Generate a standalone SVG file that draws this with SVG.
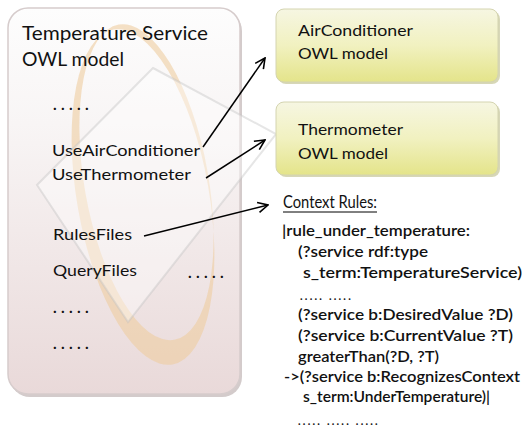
<svg xmlns="http://www.w3.org/2000/svg" width="524" height="429" viewBox="0 0 524 429">
<defs>
<linearGradient id="gLeft" x1="0" y1="0" x2="0" y2="1">
<stop offset="0" stop-color="#fdfdfd"/>
<stop offset="0.3" stop-color="#f8f5f5"/>
<stop offset="1" stop-color="#e9d9d9"/>
</linearGradient>
<linearGradient id="gYel" x1="0" y1="0" x2="0" y2="1">
<stop offset="0" stop-color="#f6f6e2"/>
<stop offset="0.5" stop-color="#f1f1c0"/>
<stop offset="1" stop-color="#e4e48a"/>
</linearGradient>
<marker id="arr" viewBox="0 0 12 12" refX="11" refY="6" markerWidth="12" markerHeight="12" markerUnits="userSpaceOnUse" orient="auto">
<path d="M1,1 L11,6 L1,11" fill="none" stroke="#000" stroke-width="1.6"/>
</marker>
</defs>
<style>
.t{font-family:Lato,"Open Sans","Liberation Sans",sans-serif;fill:#111}
.h{font-size:19px}
.m{font-size:15.5px}
.r{font-size:15px;font-weight:600}
.d{font-size:15.5px;font-weight:bold;letter-spacing:4.3px}
.sd{font-size:11px;font-weight:bold;letter-spacing:2.2px}
.c{fill:none;stroke:#000;stroke-width:1.5}
</style>
<rect width="524" height="429" fill="#fff"/>
<g id="temperature-service">
<rect x="10" y="11" width="232" height="386" rx="20" fill="#a89898" opacity="0.5"/>
<rect x="8" y="8" width="232" height="386" rx="20" fill="url(#gLeft)" stroke="#d6cccc" stroke-width="1.5"/>
<path transform="translate(143,197) rotate(-10)" d="M-66,0 A66,170 0 1 0 66,0 A66,170 0 1 0 -66,0 Z M-56,-14 A62,160 0 1 0 68,-14 A62,160 0 1 0 -56,-14 Z" fill="#efcda0" fill-rule="evenodd" opacity="0.6"/>
<polygon points="153,68 276,134 128,322 37,185" fill="#ffffff" fill-opacity="0.4" stroke="#c0c0c0" stroke-opacity="0.4" stroke-width="2"/>
<text class="t h" x="22" y="40" textLength="186" lengthAdjust="spacingAndGlyphs">Temperature Service</text>
<text class="t h" x="22" y="66" textLength="102" lengthAdjust="spacingAndGlyphs">OWL model</text>
<text class="t d" x="53" y="110">.....</text>
<text class="t m" x="52" y="156" textLength="148" lengthAdjust="spacingAndGlyphs">UseAirConditioner</text>
<text class="t m" x="52" y="180" textLength="139" lengthAdjust="spacingAndGlyphs">UseThermometer</text>
<text class="t m" x="53" y="240" textLength="79" lengthAdjust="spacingAndGlyphs">RulesFiles</text>
<text class="t m" x="53" y="276" textLength="84" lengthAdjust="spacingAndGlyphs">QueryFiles</text>
<text class="t d" x="188" y="278">.....</text>
<text class="t d" x="53" y="313">.....</text>
<text class="t d" x="53" y="349">.....</text>
</g>
<g id="airconditioner">
<rect x="278" y="11" width="222" height="73" rx="8" fill="#b0b070" opacity="0.5"/>
<rect x="276" y="9" width="222" height="73" rx="8" fill="url(#gYel)" stroke="#d4d4b0" stroke-width="1"/>
<text class="t m" x="298" y="36" textLength="115" lengthAdjust="spacingAndGlyphs">AirConditioner</text>
<text class="t m" x="298" y="59" textLength="90" lengthAdjust="spacingAndGlyphs">OWL model</text>
</g>
<g id="thermometer">
<rect x="278" y="104" width="222" height="73" rx="8" fill="#b0b070" opacity="0.5"/>
<rect x="276" y="102" width="222" height="73" rx="8" fill="url(#gYel)" stroke="#d4d4b0" stroke-width="1"/>
<text class="t m" x="298" y="135" textLength="105" lengthAdjust="spacingAndGlyphs">Thermometer</text>
<text class="t m" x="298" y="159" textLength="90" lengthAdjust="spacingAndGlyphs">OWL model</text>
</g>
<g id="context-rules">
<text class="t" font-size="17" x="283" y="208" textLength="94" lengthAdjust="spacingAndGlyphs">Context Rules:</text>
<line x1="283" y1="212" x2="377" y2="212" stroke="#000" stroke-width="1"/>
<text class="t r" x="282" y="236" textLength="188" lengthAdjust="spacingAndGlyphs">|rule_under_temperature:</text>
<text class="t r" x="298" y="257" textLength="130" lengthAdjust="spacingAndGlyphs">(?service rdf:type</text>
<text class="t r" x="303" y="278" textLength="219" lengthAdjust="spacingAndGlyphs">s_term:TemperatureService)</text>
<text class="t sd" x="300" y="300">..... .....</text>
<text class="t r" x="298" y="320" textLength="215" lengthAdjust="spacingAndGlyphs">(?service b:DesiredValue   ?D)</text>
<text class="t r" x="298" y="341" textLength="215" lengthAdjust="spacingAndGlyphs">(?service b:CurrentValue   ?T)</text>
<text class="t r" x="298" y="362" textLength="141" lengthAdjust="spacingAndGlyphs">greaterThan(?D, ?T)</text>
<text class="t r" x="284" y="382" textLength="236" lengthAdjust="spacingAndGlyphs">-&gt;(?service b:RecognizesContext</text>
<text class="t r" x="303" y="402" textLength="187" lengthAdjust="spacingAndGlyphs">s_term:UnderTemperature)|</text>
<text class="t sd" x="298" y="425">..... ..... .....</text>
</g>
<g id="connectors">
<path class="c" d="M203,147 L265,58" marker-end="url(#arr)"/>
<path class="c" d="M206,178 L265,140" marker-end="url(#arr)"/>
<path class="c" d="M144,236 L268,205" marker-end="url(#arr)"/>
</g>
</svg>
